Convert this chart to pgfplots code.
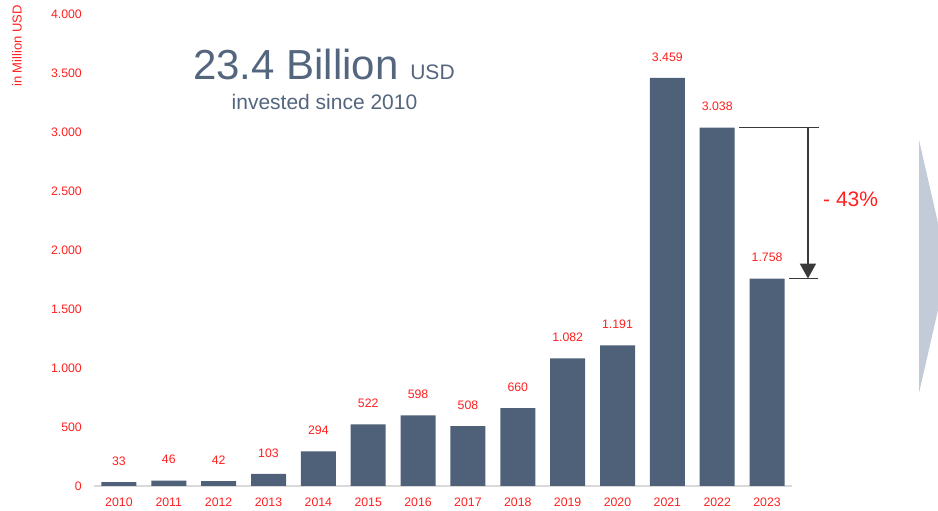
\documentclass[border=0pt]{standalone}
\usepackage{fontspec}
\setmainfont{Liberation Sans}
\usepackage{pgfplots}
\pgfplotsset{compat=1.18}
\usetikzlibrary{arrows.meta}
\definecolor{barblue}{HTML}{4F6079}
\definecolor{titleblue}{HTML}{54657E}
\definecolor{labred}{HTML}{FF1F1F}
\definecolor{chev}{HTML}{C2CBD7}
\definecolor{arrowgray}{HTML}{3A3A3A}
\definecolor{basegray}{HTML}{D9D9D9}

\begin{document}
\begin{tikzpicture}[x=1pt,y=1pt]
\path[use as bounding box] (0,0) rectangle (938,511);
\begin{axis}[
  at={(94pt,25pt)}, anchor=south west,
  scale only axis, width=698pt, height=472pt,
  xmin=-0.5, xmax=13.5, ymin=0, ymax=4000,
  axis line style={draw=none},
  major tick length=0pt,
  xtick={0,1,2,3,4,5,6,7,8,9,10,11,12,13},
  xticklabels={2010,2011,2012,2013,2014,2015,2016,2017,2018,2019,2020,2021,2022,2023},
  ytick={0,500,1000,1500,2000,2500,3000,3500,4000},
  xticklabel style={font=\fontsize{12.3}{14}\selectfont, text=labred, anchor=center, yshift=-16pt},
  yticklabel style={font=\fontsize{12.3}{14}\selectfont, text=labred, anchor=east, inner sep=0pt, xshift=-12pt},
  ybar, bar width=35pt,
  clip=false,
  nodes near coords,
  every node near coord/.append style={font=\fontsize{12.3}{14}\selectfont, text=labred, anchor=center, yshift=21pt},
  /pgf/number format/1000 sep={.},
  /pgf/number format/assume math mode=true,
]
\draw[basegray, line width=2pt] (axis cs:-0.5,0) -- (axis cs:13.5,0);
\addplot[fill=barblue, draw=none] coordinates {
  (0,33) (1,46) (2,42) (3,103) (4,294) (5,522) (6,598)
  (7,508) (8,660) (9,1082) (10,1191) (11,3459) (12,3038) (13,1758)
};
% drop from 2022 to 2023
\draw[arrowgray, line width=1.3pt] (axis cs:12.44,3038) -- (axis cs:14.04,3038);
\draw[arrowgray, line width=1.3pt] (axis cs:13.44,1758) -- (axis cs:14.02,1758);
\draw[arrowgray, line width=1.8pt, -{Triangle[width=16pt,length=15pt]}] (axis cs:13.82,3038) -- (axis cs:13.82,1758);
\end{axis}
\node[rotate=90, text=labred, font=\fontsize{13}{15}\selectfont] at (17,465) {in Million USD};
\node[anchor=base west, text=titleblue, inner sep=0pt] at (193,431) {\fontsize{42}{46}\selectfont 23.4 Billion \fontsize{21}{23}\selectfont USD};
\node[anchor=base, text=titleblue, inner sep=0pt, font=\fontsize{21}{24}\selectfont] at (324.5,401) {invested since 2010};
\node[anchor=base west, text=labred, inner sep=0pt, font=\fontsize{21}{24}\selectfont] at (823,304) {- 43\%};
\fill[chev] (919,371) -- (938,288) -- (938,201) -- (919,118) -- cycle;
\end{tikzpicture}
\end{document}
